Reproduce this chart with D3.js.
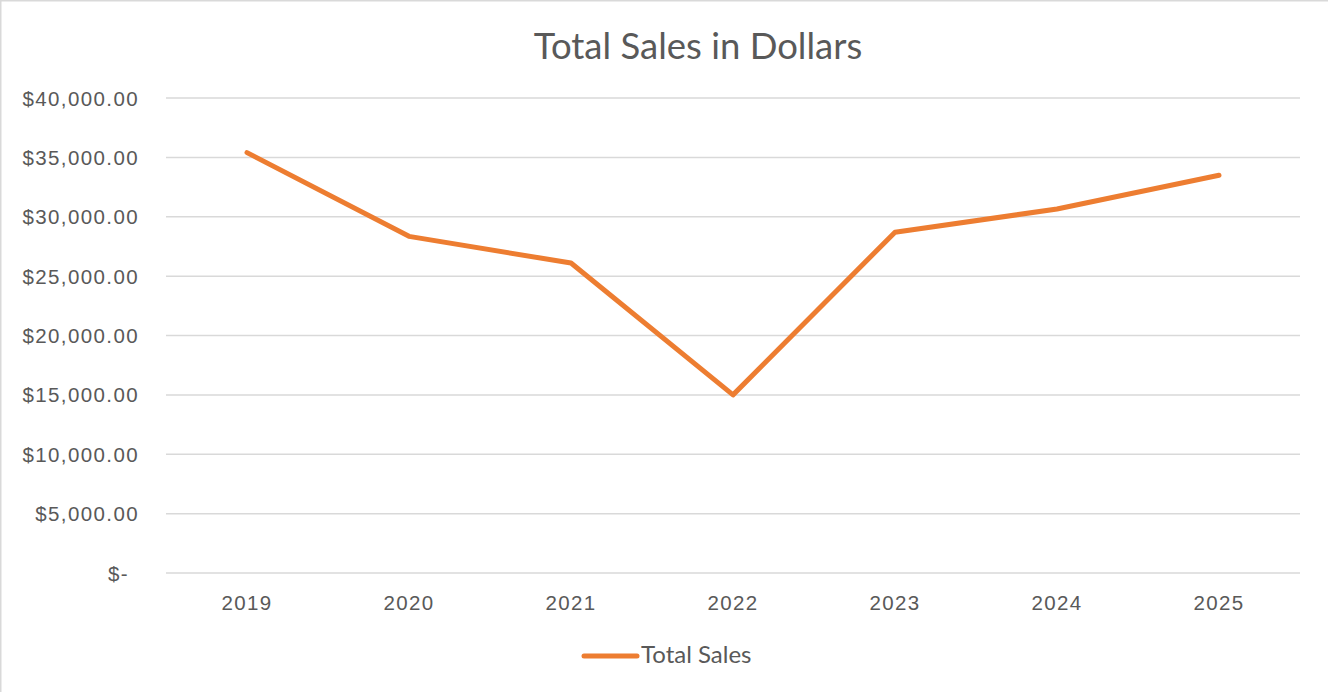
<!DOCTYPE html>
<html>
<head>
<meta charset="utf-8">
<script src="https://cdn.jsdelivr.net/npm/d3@7"></script>
<style>
  html, body { margin: 0; padding: 0; background: #fff; }
  svg { display: block; }
</style>
</head>
<body>
<script>
// chart data
var years = ["2019", "2020", "2021", "2022", "2023", "2024", "2025"];
var totalSales = [35400, 28350, 26100, 15000, 28700, 30650, 33500];
var yTicks = [0, 5000, 10000, 15000, 20000, 25000, 30000, 35000, 40000];
var seriesName = "Total Sales";
var chartTitle = "Total Sales in Dollars";

var width = 1328,
    height = 692;

var margin = {top: 98, right: 28, bottom: 119, left: 166};

var svg = d3.select("body").append("svg")
    .attr("width", width)
    .attr("height", height);

// chart area border
svg.append("rect")
    .attr("x", 0.5)
    .attr("y", 0.5)
    .attr("width", width + 10)
    .attr("height", height + 10)
    .style("fill", "#fff")
    .style("stroke", "#d9d9d9")
    .style("stroke-width", 2);

var x = d3.scaleBand()
    .domain(years)
    .range([margin.left, width - margin.right]);

var y = d3.scaleLinear()
    .domain([0, 40000])
    .range([height - margin.bottom, margin.top]);

// title
svg.append("text")
    .attr("x", 698)
    .attr("y", 59)
    .attr("text-anchor", "middle")
    .style("font-family", "Lato, 'Open Sans', sans-serif")
    .style("font-size", "36.5px")
    .style("fill", "#595959")
    .text(chartTitle);

// gridlines
svg.append("g")
    .selectAll("line")
    .data(yTicks)
    .enter()
    .append("line")
    .attr("x1", margin.left)
    .attr("x2", width - margin.right)
    .attr("y1", function(d) { return y(d); })
    .attr("y2", function(d) { return y(d); })
    .style("stroke", "#d9d9d9")
    .style("stroke-width", 1.5);

// y labels
var fmt = d3.format(",.2f");
svg.append("g")
    .selectAll("text")
    .data(yTicks)
    .enter()
    .append("text")
    .attr("x", function(d) { return d === 0 ? 129 : 139; })
    .attr("y", function(d) { return y(d) + 7.5; })
    .attr("text-anchor", "end")
    .style("font-family", "'Liberation Sans', Arial, sans-serif")
    .style("font-size", "20.5px")
    .style("letter-spacing", "1.4px")
    .style("fill", "#595959")
    .text(function(d) { return d === 0 ? "$-" : "$" + fmt(d); });

// x labels
svg.append("g")
    .selectAll("text")
    .data(years)
    .enter()
    .append("text")
    .attr("x", function(d) { return x(d) + x.bandwidth() / 2; })
    .attr("y", 610)
    .attr("text-anchor", "middle")
    .style("font-family", "'Liberation Sans', Arial, sans-serif")
    .style("font-size", "20.5px")
    .style("letter-spacing", "1.4px")
    .style("fill", "#595959")
    .text(function(d) { return d; });

// the line
var line = d3.line()
    .x(function(d, i) { return x(years[i]) + x.bandwidth() / 2; })
    .y(function(d) { return y(d); });

svg.append("path")
    .datum(totalSales)
    .attr("d", line)
    .style("fill", "none")
    .style("stroke", "#ed7d31")
    .style("stroke-width", 5)
    .style("stroke-linejoin", "round")
    .style("stroke-linecap", "round");

// legend
var legend = svg.append("g");
legend.append("line")
    .attr("x1", 584)
    .attr("x2", 637)
    .attr("y1", 656)
    .attr("y2", 656)
    .style("stroke", "#ed7d31")
    .style("stroke-width", 5)
    .style("stroke-linecap", "round");
legend.append("text")
    .attr("x", 641)
    .attr("y", 663)
    .style("font-family", "Lato, 'Open Sans', sans-serif")
    .style("font-size", "24px")
    .style("fill", "#595959")
    .text(seriesName);
</script>
</body>
</html>
